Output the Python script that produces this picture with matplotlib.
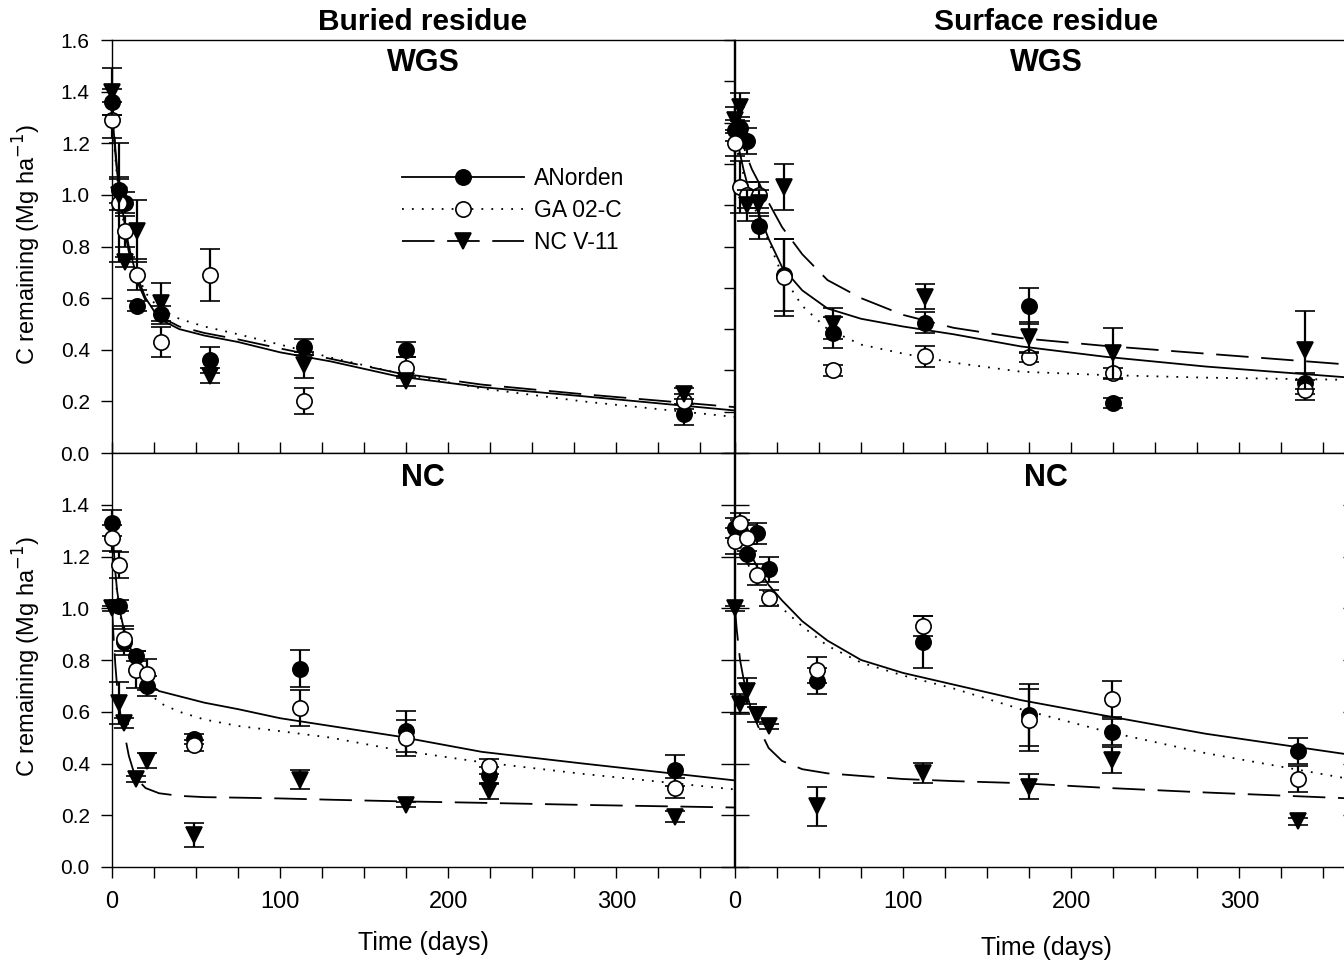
import matplotlib
matplotlib.use("Agg")
import matplotlib.pyplot as plt
from matplotlib import font_manager
from matplotlib.lines import Line2D
import numpy as np

plt.rcParams['font.family'] = ['Liberation Sans', 'DejaVu Sans']
names = set(f.name for f in font_manager.fontManager.ttflist)
narrow = 'Liberation Sans Narrow' if 'Liberation Sans Narrow' in names else 'Liberation Sans'

series_names = ['ANorden', 'GA 02-C', 'NC V-11']

# ---- measured points (mean, error) ----
# Buried residue, WGS
tl_days = [0, 4, 8, 15, 29, 58, 114, 175, 340]
tl_an = [1.36, 1.02, 0.97, 0.57, 0.54, 0.36, 0.41, 0.40, 0.15]
tl_an_err = [0.05, 0.05, 0.04, 0.02, 0.03, 0.05, 0.03, 0.03, 0.04]
tl_ga = [1.29, 0.97, 0.86, 0.69, 0.43, 0.69, 0.20, 0.33, 0.20]
tl_ga_err = [0.07, 0.23, 0.06, 0.06, 0.06, 0.10, 0.05, 0.04, 0.03]
tl_nc = [1.40, 1.00, 0.74, 0.86, 0.58, 0.30, 0.34, 0.28, 0.23]
tl_nc_err = [0.09, 0.06, 0.02, 0.12, 0.08, 0.03, 0.05, 0.02, 0.02]

# Surface residue, WGS
tr_days = [0, 3, 7, 14, 29, 58, 113, 175, 225, 339]
tr_an = [1.25, 1.26, 1.21, 0.88, 0.69, 0.465, 0.505, 0.57, 0.193, 0.27]
tr_an_err = [0.04, 0.04, 0.05, 0.05, 0.14, 0.06, 0.04, 0.07, 0.02, 0.04]
tr_ga = [1.20, 1.03, 1.00, 1.00, 0.68, 0.32, 0.375, 0.373, 0.309, 0.244]
tr_ga_err = [0.05, 0.10, 0.05, 0.05, 0.15, 0.02, 0.04, 0.02, 0.02, 0.04]
tr_nc = [1.29, 1.34, 0.96, 0.97, 1.03, 0.50, 0.606, 0.448, 0.386, 0.399]
tr_nc_err = [0.05, 0.055, 0.06, 0.05, 0.09, 0.06, 0.05, 0.06, 0.10, 0.15]

# Buried residue, NC
bl_days = [0, 4, 7, 14, 21, 49, 112, 175, 224, 335]
bl_an = [1.33, 1.01, 0.87, 0.815, 0.70, 0.495, 0.767, 0.524, 0.356, 0.373]
bl_an_err = [0.05, 0.02, 0.05, 0.02, 0.04, 0.02, 0.07, 0.08, 0.03, 0.06]
bl_ga = [1.27, 1.166, 0.883, 0.763, 0.744, 0.47, 0.615, 0.499, 0.389, 0.305]
bl_ga_err = [0.05, 0.05, 0.05, 0.07, 0.06, 0.02, 0.07, 0.07, 0.03, 0.04]
bl_nc = [1.00, 0.634, 0.557, 0.34, 0.411, 0.124, 0.337, 0.240, 0.292, 0.195]
bl_nc_err = [0.01, 0.08, 0.02, 0.01, 0.03, 0.045, 0.036, 0.01, 0.03, 0.02]

# Surface residue, NC
br_days = [0, 3, 7, 13, 20, 49, 112, 175, 224, 335]
br_an = [1.31, 1.30, 1.21, 1.29, 1.15, 0.718, 0.869, 0.589, 0.522, 0.447]
br_an_err = [0.04, 0.04, 0.04, 0.04, 0.05, 0.05, 0.10, 0.12, 0.05, 0.05]
br_ga = [1.26, 1.33, 1.27, 1.13, 1.04, 0.761, 0.931, 0.569, 0.65, 0.341]
br_ga_err = [0.05, 0.04, 0.05, 0.04, 0.03, 0.05, 0.04, 0.12, 0.07, 0.05]
br_nc = [1.00, 0.63, 0.68, 0.589, 0.544, 0.234, 0.363, 0.311, 0.415, 0.176]
br_nc_err = [0.01, 0.04, 0.05, 0.03, 0.01, 0.075, 0.04, 0.05, 0.05, 0.015]

# ---- fitted curves ----
fit_days = [0, 1, 2, 3, 5, 7, 10, 14, 20, 28, 40, 55, 75, 100, 130, 170, 220, 280, 370]
tl_an_fit = [1.36, 1.25, 1.16, 1.09, 0.99, 0.91, 0.80, 0.70, 0.60, 0.52, 0.48, 0.455, 0.43, 0.39, 0.355, 0.297, 0.255, 0.22, 0.165]
tl_ga_fit = [1.29, 1.22, 1.14, 1.07, 0.97, 0.89, 0.80, 0.71, 0.62, 0.56, 0.52, 0.49, 0.46, 0.42, 0.37, 0.31, 0.25, 0.20, 0.14]
tl_nc_fit = [1.40, 1.28, 1.18, 1.10, 0.98, 0.88, 0.78, 0.68, 0.59, 0.53, 0.49, 0.465, 0.44, 0.405, 0.365, 0.31, 0.265, 0.228, 0.178]

tr_an_fit = [1.25, 1.22, 1.19, 1.16, 1.10, 1.05, 0.99, 0.93, 0.83, 0.72, 0.63, 0.56, 0.52, 0.49, 0.46, 0.413, 0.373, 0.335, 0.29]
tr_ga_fit = [1.20, 1.18, 1.16, 1.13, 1.08, 1.04, 0.98, 0.91, 0.82, 0.69, 0.57, 0.48, 0.42, 0.385, 0.35, 0.315, 0.302, 0.292, 0.283]
tr_nc_fit = [1.29, 1.27, 1.25, 1.23, 1.19, 1.15, 1.10, 1.05, 0.97, 0.875, 0.77, 0.67, 0.60, 0.535, 0.485, 0.445, 0.415, 0.385, 0.34]

bl_an_fit = [1.33, 1.23, 1.14, 1.07, 0.98, 0.92, 0.86, 0.80, 0.72, 0.68, 0.66, 0.635, 0.61, 0.575, 0.545, 0.505, 0.445, 0.40, 0.335]
bl_ga_fit = [1.27, 1.19, 1.12, 1.06, 0.97, 0.90, 0.83, 0.76, 0.69, 0.635, 0.60, 0.57, 0.545, 0.525, 0.50, 0.452, 0.405, 0.36, 0.30]
bl_nc_fit = [1.00, 0.88, 0.78, 0.70, 0.59, 0.53, 0.43, 0.345, 0.305, 0.285, 0.275, 0.27, 0.268, 0.265, 0.26, 0.254, 0.248, 0.24, 0.23]

br_an_fit = [1.32, 1.31, 1.30, 1.29, 1.27, 1.24, 1.20, 1.15, 1.09, 1.03, 0.95, 0.875, 0.80, 0.75, 0.705, 0.645, 0.585, 0.515, 0.43]
br_ga_fit = [1.27, 1.26, 1.25, 1.24, 1.21, 1.18, 1.14, 1.09, 1.04, 1.00, 0.93, 0.855, 0.79, 0.74, 0.69, 0.61, 0.525, 0.44, 0.335]
br_nc_fit = [1.00, 0.92, 0.86, 0.80, 0.73, 0.67, 0.60, 0.54, 0.46, 0.41, 0.378, 0.362, 0.352, 0.34, 0.332, 0.324, 0.306, 0.288, 0.264]

W, H = 1344, 968
fig = plt.figure(figsize=(W / 100, H / 100), dpi=100)

def box(x0, x1, ytop, ybot):
    return [x0 / W, 1 - ybot / H, (x1 - x0) / W, (ybot - ytop) / H]

ax_tl = fig.add_axes(box(112, 734, 40, 453))
ax_tr = fig.add_axes(box(735, 1357, 40, 453))
ax_bl = fig.add_axes(box(112, 734, 453, 867))
ax_br = fig.add_axes(box(735, 1357, 453, 867))

styles = [
    dict(marker='o', mfc='black', ms=11, ls='-'),
    dict(marker='o', mfc='white', ms=11, ls=(0, (1, 4.5))),
    dict(marker='v', mfc='black', ms=12, ls=(0, (18, 7))),
]

def panel(ax, days, means, errs, fits):
    for i in range(3):
        ax.plot(fit_days, fits[i], color='black', lw=1.3, ls=styles[i]['ls'], zorder=2)
    for i in range(3):
        eb = ax.errorbar(days, means[i], yerr=errs[i], fmt=styles[i]['marker'],
                         ms=styles[i]['ms'], mfc=styles[i]['mfc'], mec='black', mew=1.2,
                         ecolor='black', elinewidth=1.6, capsize=7, capthick=1.6,
                         zorder=3 + i)
        for a in eb.get_children():
            a.set_clip_on(False)
    ax.set_xlim(0, 370)
    ax.set_ylim(0, 1.6)
    for s in ax.spines.values():
        s.set_linewidth(1.0)
    ax.xaxis.set_major_locator(plt.MultipleLocator(100))
    ax.xaxis.set_minor_locator(plt.MultipleLocator(25))

panel(ax_tl, tl_days, [tl_an, tl_ga, tl_nc], [tl_an_err, tl_ga_err, tl_nc_err],
      [tl_an_fit, tl_ga_fit, tl_nc_fit])
panel(ax_tr, tr_days, [tr_an, tr_ga, tr_nc], [tr_an_err, tr_ga_err, tr_nc_err],
      [tr_an_fit, tr_ga_fit, tr_nc_fit])
panel(ax_bl, bl_days, [bl_an, bl_ga, bl_nc], [bl_an_err, bl_ga_err, bl_nc_err],
      [bl_an_fit, bl_ga_fit, bl_nc_fit])
panel(ax_br, br_days, [br_an, br_ga, br_nc], [br_an_err, br_ga_err, br_nc_err],
      [br_an_fit, br_ga_fit, br_nc_fit])

tick_kw = dict(length=8, width=1.0, color='black')

# left column: labelled y axis
for ax in (ax_tl, ax_bl):
    ax.yaxis.set_major_locator(plt.MultipleLocator(0.2))
    ax.yaxis.set_major_formatter(plt.FormatStrFormatter('%.1f'))
    ax.tick_params(axis='y', which='both', direction='out', labelsize=15, pad=8, **tick_kw)
ax_bl.set_yticks(np.arange(0, 1.41, 0.2))

fig.text(27 / W, 1 - 244 / H, 'C remaining (Mg ha$^{-1}$)', rotation=90,
         ha='center', va='center', fontsize=17)
fig.text(27 / W, 1 - 656 / H, 'C remaining (Mg ha$^{-1}$)', rotation=90,
         ha='center', va='center', fontsize=17)

# right column: unlabelled y ticks on the left spine
ax_tr.set_yticks(np.linspace(0, 1.6, 11))
ax_br.set_yticks(np.arange(0, 1.61, 0.2))
for ax in (ax_tr, ax_br):
    ax.tick_params(axis='y', which='both', direction='out', labelleft=False, **tick_kw)
ax_br.tick_params(axis='y', right=True, direction='inout', length=20, width=1.0)

# top row: inward x ticks, no labels
for ax in (ax_tl, ax_tr):
    ax.tick_params(axis='x', which='both', direction='in', labelbottom=False, **tick_kw)

# bottom row: outward x ticks with labels
for ax in (ax_bl, ax_br):
    ax.tick_params(axis='x', which='both', direction='out', pad=9, **tick_kw)
    ax.set_xticks([0, 100, 200, 300])
    for lab in ax.get_xticklabels():
        lab.set_family([narrow, 'DejaVu Sans'])
        lab.set_fontsize(17)

fig.text(423 / W, 1 - 943 / H, 'Time (days)', ha='center', va='center',
         fontsize=18, family=[narrow, 'DejaVu Sans'])
fig.text(1046 / W, 1 - 948 / H, 'Time (days)', ha='center', va='center',
         fontsize=18, family=[narrow, 'DejaVu Sans'])

fig.text(423 / W, 1 - 22 / H, 'Buried residue', ha='center', va='center',
         fontsize=21.5, fontweight='bold')
fig.text(1046 / W, 1 - 22 / H, 'Surface residue', ha='center', va='center',
         fontsize=21.5, fontweight='bold')
for x, t, y in ((423, 'WGS', 63), (1046, 'WGS', 63), (423, 'NC', 478), (1046, 'NC', 478)):
    fig.text(x / W, 1 - y / H, t, ha='center', va='center', fontsize=22, fontweight='bold')

handles = [Line2D([], [], color='black', lw=1.3, ls=s['ls'], marker=s['marker'],
                  ms=s['ms'], mfc=s['mfc'], mec='black', mew=1.2) for s in styles]
ax_tl.legend(handles, series_names, loc='upper left', bbox_to_anchor=(0.466, 0.692),
             frameon=False, fontsize=16.5, handlelength=5.35, handletextpad=0.43,
             labelspacing=0.38, borderpad=0, borderaxespad=0, numpoints=1)

fig.savefig('out.png', dpi=100)
